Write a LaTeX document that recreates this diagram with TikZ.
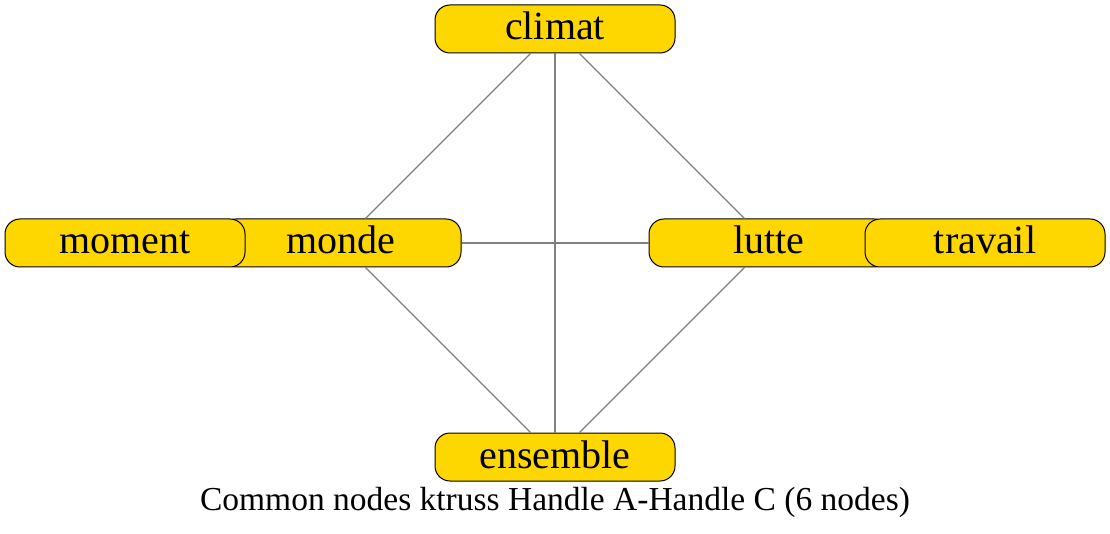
\documentclass[tikz,border=0pt]{standalone}
\usepackage{fontspec}
\setmainfont{Liberation Serif}
\definecolor{gold}{HTML}{FFD700}
\definecolor{linkgray}{HTML}{7F7F7F}
\begin{document}
\begin{tikzpicture}[x=1pt,y=-1pt] % ktruss
\tikzstyle{word} = [draw=black, line width=1pt, fill=gold, rounded corners=15pt, minimum width=240pt, minimum height=48pt, inner sep=0pt, text height=26pt, text depth=4pt, font=\fontsize{40}{42}\selectfont] % term node style
\tikzstyle{link} = [draw=linkgray, line width=1.2pt] % edge style
\useasboundingbox (0,0) rectangle (1110,534);
%
\node[word] (climat) at (555,29) {climat};
\node[word] (monde) at (341,243) {monde};
\node[word] (moment) at (125,243) {moment}; % overlaps monde
\node[word] (lutte) at (769,243) {lutte};
\node[word] (travail) at (985,243) {travail}; % overlaps lutte
\node[word] (ensemble) at (555,457) {ensemble};
%
\draw[link] (climat) -- (monde);
\draw[link] (climat) -- (lutte);
\draw[link] (climat) -- (ensemble);
\draw[link] (monde) -- (lutte);
\draw[link] (monde) -- (ensemble);
\draw[link] (lutte) -- (ensemble);
%
\node[font=\fontsize{33.5}{36}\selectfont] (caption) at (555,502) {Common nodes ktruss Handle A-Handle C (6 nodes)};
\end{tikzpicture}
\end{document}
